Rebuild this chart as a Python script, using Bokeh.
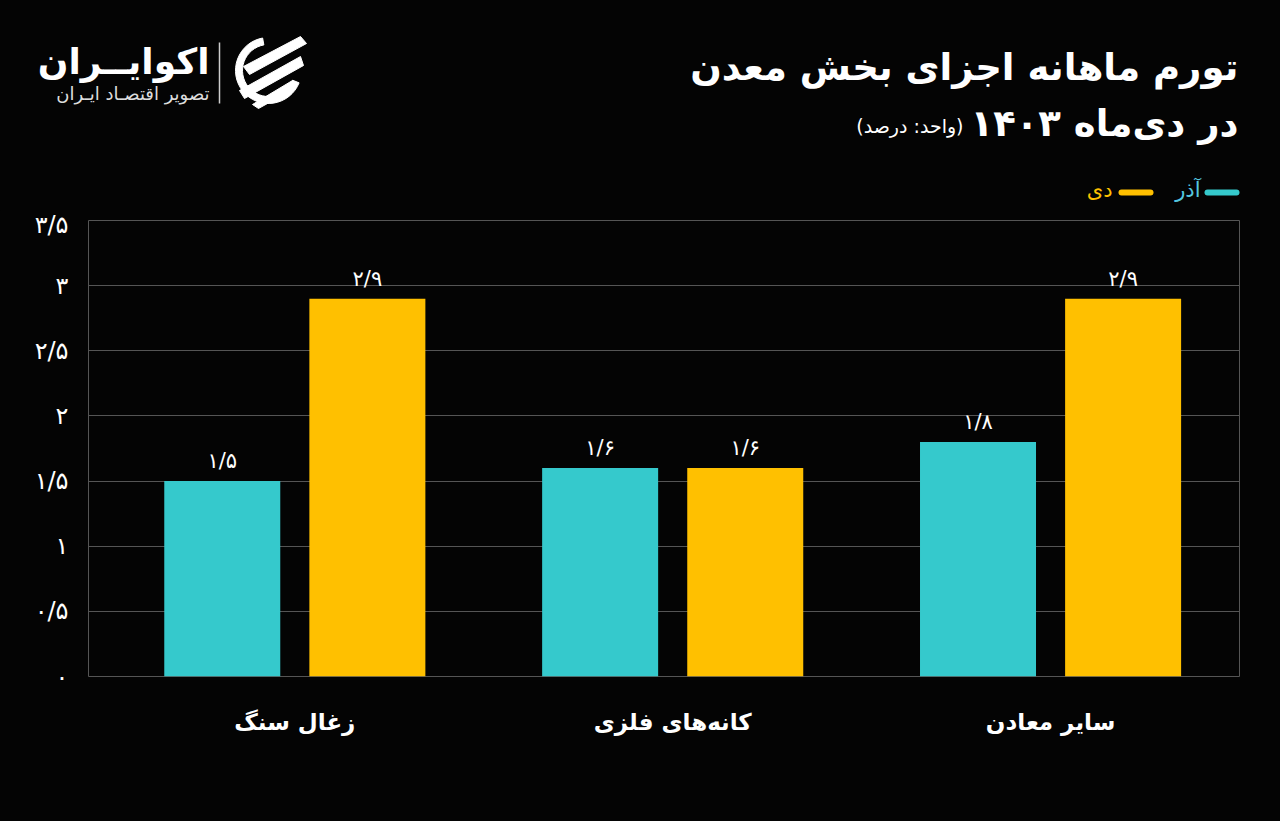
import re
from bokeh.plotting import figure
from bokeh.layouts import column, row
from bokeh.models import ColumnDataSource, FixedTicker, LabelSet
from bokeh.transform import dodge
from bokeh.core.properties import value
from bokeh.embed import file_html
from bokeh.resources import INLINE

# ---- data ----
categories = ["زغال سنگ", "کانه\u200cهای فلزی", "سایر معادن"]
azar = [1.5, 1.6, 1.8]
dey = [2.9, 1.6, 2.9]
y_ticks = [0, 0.5, 1, 1.5, 2, 2.5, 3, 3.5]
series_names = ["آذر", "دی"]
title_1 = "تورم ماهانه اجزای بخش معدن"
title_2 = "در دی\u200cماه ۱۴۰۳"
unit_txt = "(واحد: درصد)"
brand = "اکوایــران"
brand_sub = "تصویر اقتصـاد ایـران"

FA = str.maketrans("0123456789.", "۰۱۲۳۴۵۶۷۸۹/")


def fa(v):
    return f"{v:g}".translate(FA)


FONT = "DejaVu Sans"
BG = "#040404"
CYAN = "#35C9CC"
YELLOW = "#FFC000"
GRID = "#555555"
W = 1280
HH = 210           # header height
HC = 821 - HH      # chart height

# ---------------- header ----------------
h = figure(width=W, height=HH, output_backend="svg", toolbar_location=None,
           x_range=(0, W), y_range=(0, HH), x_axis_location=None, y_axis_location=None,
           min_border=0)
h.background_fill_color = BG
h.border_fill_color = BG
h.outline_line_color = None
h.grid.grid_line_color = None


def htext(t, x, y_ref, size, color="white", align="right", bold=False):
    h.text(x=[x], y=[HH - y_ref], text=[t], text_align=align, text_baseline="middle",
           text_color=color, text_font=value(FONT), text_font_size=size,
           text_font_style="bold" if bold else "normal")


htext(title_1, 1238, 67, "37px", bold=True)
htext(title_2, 1238, 123, "37px", bold=True)
htext(unit_txt, 963, 125, "19px")

# legend (RTL order: swatch right of text)
h.segment(x0=[1207, 1121], y0=[HH - 192] * 2, x1=[1236, 1150], y1=[HH - 192] * 2,
          line_color=[CYAN, YELLOW], line_width=6, line_cap="round")
htext(series_names[0], 1200, 189, "21px", color="#55C8E0")
htext(series_names[1], 1112, 189, "21px", color=YELLOW)

# logo
htext(brand, 209, 61, "36px", bold=True)
htext(brand_sub, 209, 93, "18px", color="#dddddd")
h.segment(x0=[219], y0=[HH - 42], x1=[219], y1=[HH - 103], line_color="#cccccc", line_width=1.5)
cx, cy = 268, HH - 70
h.annular_wedge(x=[cx], y=[cy], inner_radius=26, outer_radius=33,
                start_angle=1.75, end_angle=5.9, color="white")
stripes = [
    [(243, 66), (300, 36), (306, 43), (249, 74)],
    [(239, 90), (300, 56), (303, 65), (244, 98)],
    [(252, 104), (292, 80), (294, 88), (258, 108)],
]
h.patches(xs=[[q[0] for q in s] for s in stripes],
          ys=[[HH - q[1] for q in s] for s in stripes], color="white")

# ---------------- chart ----------------
xs = [i + 0.5 for i in range(len(categories))]
src = ColumnDataSource(dict(
    x=xs, azar=azar, dey=dey,
    azar_lbl=[fa(v) for v in azar], dey_lbl=[fa(v) for v in dey],
))

p = figure(width=W, height=HC, output_backend="svg", toolbar_location=None,
           x_range=(-0.046, 3.0), y_range=(0, 3.5),
           min_border_left=88, min_border_right=41, min_border_top=10, min_border_bottom=145)
p.background_fill_color = BG
p.border_fill_color = BG
p.outline_line_color = GRID
p.outline_line_width = 1

off = 0.192
bw = 0.307
p.vbar(x=dodge("x", -off), top="azar", width=bw, source=src, color=CYAN, line_color=None)
p.vbar(x=dodge("x", off), top="dey", width=bw, source=src, color=YELLOW, line_color=None)

for col, lbl, d in (("azar", "azar_lbl", -off), ("dey", "dey_lbl", off)):
    p.add_layout(LabelSet(x=dodge("x", d), y=col, text=lbl, source=src,
                          text_align="center", text_baseline="bottom", y_offset=8,
                          text_color="white", text_font=value(FONT), text_font_size="21px"))

p.yaxis.ticker = FixedTicker(ticks=y_ticks)
p.yaxis.major_label_overrides = {t: fa(t) for t in y_ticks}
p.yaxis.major_label_text_color = "white"
p.yaxis.major_label_text_font = FONT
p.yaxis.major_label_text_font_size = "24px"
p.yaxis.major_label_standoff = 14
p.yaxis.axis_line_color = None
p.yaxis.major_tick_line_color = None
p.yaxis.minor_tick_line_color = None

p.xaxis.ticker = FixedTicker(ticks=xs)
p.xaxis.major_label_overrides = {x: c for x, c in zip(xs, categories)}
p.xaxis.major_label_text_color = "white"
p.xaxis.major_label_text_font = FONT
p.xaxis.major_label_text_font_style = "bold"
p.xaxis.major_label_text_font_size = "23px"
p.xaxis.major_label_standoff = 26
p.xaxis.axis_line_color = None
p.xaxis.major_tick_line_color = None
p.xaxis.minor_tick_line_color = None

p.xgrid.grid_line_color = None
p.ygrid.grid_line_color = GRID
p.ygrid.grid_line_width = 1

layout = column(row(h), row(p), spacing=0)
html = file_html(layout, INLINE)
html = html.replace("</head>", "<style>html, body { background-color: #040404; }</style></head>", 1)
open("out.html", "w").write(html)
